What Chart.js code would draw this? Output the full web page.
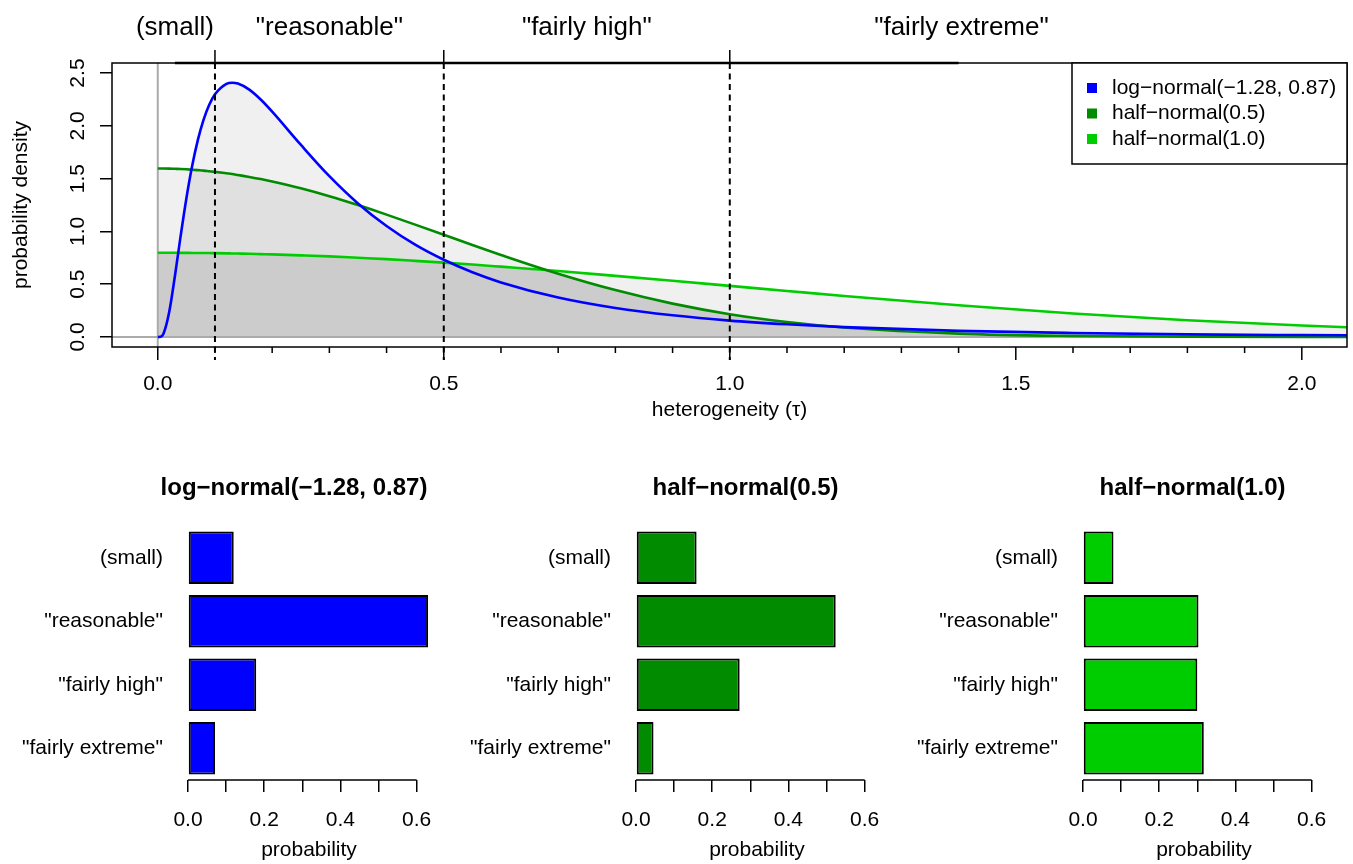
<!DOCTYPE html>
<html><head><meta charset="utf-8">
<script src="https://cdn.jsdelivr.net/npm/chart.js@4.4.1/dist/chart.umd.min.js"></script>
<style>
html,body{margin:0;padding:0;background:#fff;overflow:hidden;width:1353px;height:864px;position:relative;}
canvas{position:absolute;}
</style></head><body>
<script>
// ---------------- data ----------------
const tau = [0, 0.005, 0.01, 0.02, 0.03, 0.04, 0.05, 0.06, 0.07, 0.08, 0.09, 0.10, 0.12, 0.13, 0.14, 0.16, 0.18, 0.20, 0.25, 0.30, 0.35, 0.40, 0.45, 0.50, 0.55, 0.60, 0.70, 0.80, 0.90, 1.00, 1.10, 1.20, 1.40, 1.60, 1.80, 2.00, 2.10];
const densLogNormal = [0, 0.002, 0.031, 0.236, 0.578, 0.957, 1.312, 1.617, 1.864, 2.056, 2.199, 2.298, 2.397, 2.408, 2.400, 2.343, 2.249, 2.134, 1.821, 1.523, 1.265, 1.051, 0.874, 0.731, 0.613, 0.517, 0.373, 0.274, 0.205, 0.155, 0.120, 0.093, 0.058, 0.038, 0.025, 0.018, 0.015];
const densHalfNormal05 = [1.596, 1.596, 1.596, 1.595, 1.593, 1.591, 1.588, 1.584, 1.580, 1.576, 1.570, 1.564, 1.550, 1.543, 1.534, 1.516, 1.496, 1.473, 1.408, 1.333, 1.249, 1.159, 1.064, 0.968, 0.871, 0.777, 0.599, 0.444, 0.316, 0.216, 0.142, 0.090, 0.032, 0.010, 0.002, 0.001, 0.000];
const densHalfNormal10 = [0.798, 0.798, 0.798, 0.798, 0.798, 0.797, 0.797, 0.796, 0.796, 0.795, 0.795, 0.794, 0.792, 0.791, 0.790, 0.788, 0.785, 0.782, 0.773, 0.763, 0.750, 0.737, 0.721, 0.704, 0.686, 0.666, 0.625, 0.579, 0.532, 0.484, 0.436, 0.388, 0.300, 0.222, 0.158, 0.108, 0.088];

const xTickValues = [0, 0.1, 0.2, 0.3, 0.4, 0.5, 0.6, 0.7, 0.8, 0.9, 1.0, 1.1, 1.2, 1.3, 1.4, 1.5, 1.6, 1.7, 1.8, 1.9, 2.0];
const yTickValues = [0, 0.5, 1.0, 1.5, 2.0, 2.5];
const cutoffs = [0.1, 0.5, 1.0];
const regionLabels = ['(small)', '"reasonable"', '"fairly high"', '"fairly extreme"'];
const regionLabelPos = [0.03, 0.30, 0.75, 1.405];
const topAxisSpan = [0.03, 1.40];

const seriesNames = ['log\u2212normal(\u22121.28, 0.87)', 'half\u2212normal(0.5)', 'half\u2212normal(1.0)'];
const seriesColors = ['#0000FF', '#008B00', '#00CD00'];

const barCategories = ['(small)', '"reasonable"', '"fairly high"', '"fairly extreme"'];
const probLogNormal = [0.120, 0.630, 0.179, 0.071];
const probHalfNormal05 = [0.159, 0.524, 0.272, 0.046];
const probHalfNormal10 = [0.080, 0.303, 0.300, 0.317];
const probTicks = [0, 0.1, 0.2, 0.3, 0.4, 0.5, 0.6];

// ---------------- setup ----------------
const FONT = '"Liberation Sans", Arial, Helvetica, sans-serif';
const FS = 21;
Chart.defaults.font.family = FONT;
Chart.defaults.font.size = FS;
Chart.defaults.color = '#000';
Chart.defaults.animation = false;

function addCanvas(left, top, w, h) {
  const c = document.createElement('canvas');
  c.width = w; c.height = h;
  c.style.left = left + 'px'; c.style.top = top + 'px';
  c.style.width = w + 'px'; c.style.height = h + 'px';
  document.body.appendChild(c);
  return c;
}

const pts = arr => tau.map((t, i) => ({x: t, y: arr[i]}));
const envMax = tau.map((t, i) => Math.max(densLogNormal[i], densHalfNormal05[i], densHalfNormal10[i]));
const envMid = tau.map((t, i) => Math.min(densLogNormal[i], densHalfNormal05[i]));
const envLow = tau.map((t, i) => Math.min(densHalfNormal05[i], densHalfNormal10[i]));

const topDecor = {
  id: 'topDecor',
  afterDatasetDraw(chart, args) {
    if (args.index !== 3) return;
    const {ctx, chartArea: a, scales: {x, y}} = chart;
    const x0 = x.getPixelForValue(0), y0 = y.getPixelForValue(0);
    ctx.save();
    ctx.strokeStyle = '#ABABAB'; ctx.lineWidth = 2;
    ctx.beginPath();
    ctx.moveTo(x0, a.top); ctx.lineTo(x0, a.bottom);
    ctx.moveTo(a.left, y0); ctx.lineTo(a.right, y0);
    ctx.stroke();
    ctx.restore();
  },
  afterDraw(chart) {
    const {ctx, chartArea: a, scales: {x}} = chart;
    ctx.save();
    // dashed cut-off lines
    ctx.strokeStyle = '#000'; ctx.lineWidth = 2;
    ctx.setLineDash([6, 4.5]);
    ctx.beginPath();
    cutoffs.forEach(c => { const px = x.getPixelForValue(c); ctx.moveTo(px, a.top); ctx.lineTo(px, a.bottom + 13); });
    ctx.stroke();
    ctx.setLineDash([]);
    // box
    ctx.lineWidth = 1.5;
    ctx.strokeRect(a.left, a.top, a.right - a.left, a.bottom - a.top);
    // top axis with region labels
    ctx.lineWidth = 2.5;
    ctx.beginPath();
    ctx.moveTo(x.getPixelForValue(topAxisSpan[0]), a.top);
    ctx.lineTo(x.getPixelForValue(topAxisSpan[1]), a.top);
    ctx.stroke();
    ctx.lineWidth = 1.5;
    ctx.beginPath();
    cutoffs.forEach(c => { const px = x.getPixelForValue(c); ctx.moveTo(px, a.top); ctx.lineTo(px, a.top - 13); });
    ctx.stroke();
    ctx.fillStyle = '#000';
    ctx.font = '26px ' + FONT;
    ctx.textAlign = 'center'; ctx.textBaseline = 'middle';
    regionLabels.forEach((t, i) => ctx.fillText(t, x.getPixelForValue(regionLabelPos[i]), 28));
    // bottom tick marks (major every 0.5, minor every 0.1)
    ctx.lineWidth = 1.5;
    ctx.beginPath();
    x.ticks.forEach(tk => {
      const px = x.getPixelForValue(tk.value);
      const major = tk.label !== '';
      ctx.moveTo(px, a.bottom); ctx.lineTo(px, a.bottom + (major ? 13 : 6));
    });
    ctx.stroke();
    // legend
    const lw = 275, lh = 101;
    const lx = a.right - lw, ly = a.top;
    ctx.fillStyle = '#fff';
    ctx.fillRect(lx, ly, lw, lh);
    ctx.strokeStyle = '#000'; ctx.lineWidth = 1.5;
    ctx.strokeRect(lx, ly, lw, lh);
    ctx.font = FS + 'px ' + FONT;
    ctx.textAlign = 'left'; ctx.textBaseline = 'middle';
    chart.data.datasets.filter(d => d.legendText).forEach((d, i) => {
      const cy = ly + 25 + i * 25.5;
      ctx.fillStyle = d.borderColor;
      ctx.fillRect(lx + 15, cy - 5, 10, 10);
      ctx.fillStyle = '#000';
      ctx.fillText(d.legendText, lx + 40, cy);
    });
    ctx.restore();
  }
};

const lineDs = (i, arr) => ({
  data: pts(arr), legendText: seriesNames[i], borderColor: seriesColors[i], backgroundColor: seriesColors[i],
  borderWidth: 2.6, pointRadius: 0, fill: false, cubicInterpolationMode: 'monotone'
});
const fillDs = (arr, col) => ({
  data: pts(arr), borderWidth: 0, borderColor: 'rgba(0,0,0,0)', backgroundColor: col,
  pointRadius: 0, fill: 'origin', cubicInterpolationMode: 'monotone'
});

new Chart(addCanvas(0, 0, 1353, 440), {
  type: 'line',
  data: {
    datasets: [
      lineDs(0, densLogNormal),
      lineDs(1, densHalfNormal05),
      lineDs(2, densHalfNormal10),
      fillDs(envLow, '#CCCCCC'),
      fillDs(envMid, '#E0E0E0'),
      fillDs(envMax, '#F0F0F0')
    ]
  },
  options: {
    responsive: false,
    devicePixelRatio: 1,
    layout: {padding: {left: 0, top: 63, right: 6, bottom: 0}},
    plugins: {legend: {display: false}, tooltip: {enabled: false}},
    scales: {
      x: {
        type: 'linear', min: -0.08, max: 2.079,
        afterBuildTicks: s => { s.ticks = xTickValues.map(v => ({value: v})); },
        afterFit: s => { s.height = 93; },
        grid: {display: false, drawTicks: false}, border: {display: false},
        ticks: {autoSkip: false, maxRotation: 0, padding: 25, color: '#000', font: {size: FS},
          callback: v => (Math.abs(v * 2 - Math.round(v * 2)) < 1e-9 ? v.toFixed(1) : '')},
        title: {display: true, text: 'heterogeneity (\u03C4)', color: '#000', font: {size: FS}, padding: {top: 0, bottom: 17}}
      },
      y: {
        type: 'linear', min: -0.095, max: 2.595,
        afterBuildTicks: s => { s.ticks = yTickValues.map(v => ({value: v})); },
        afterFit: s => { s.width = 112; },
        grid: {display: true, drawOnChartArea: false, drawTicks: true, tickLength: 12, color: '#000', lineWidth: 1.5},
        border: {display: false},
        ticks: {autoSkip: false, minRotation: 90, maxRotation: 90, crossAlign: 'center', padding: 7, color: '#000', font: {size: FS},
          callback: v => v.toFixed(1)},
        title: {display: true, text: 'probability density', color: '#000', font: {size: FS}, padding: {top: 9, bottom: 0}}
      }
    }
  },
  plugins: [topDecor]
});

// ---------------- bar panels ----------------
const barDecor = {
  id: 'barDecor',
  afterDraw(chart, args, opts) {
    const {ctx, chartArea: a, scales: {x}} = chart;
    ctx.save();
    ctx.strokeStyle = '#000'; ctx.lineWidth = 1.5;
    ctx.beginPath();
    ctx.moveTo(x.getPixelForValue(probTicks[0]), a.bottom);
    ctx.lineTo(x.getPixelForValue(probTicks[probTicks.length - 1]), a.bottom);
    ctx.stroke();
    // panel title
    ctx.fillStyle = '#000';
    ctx.font = 'bold 24px ' + FONT;
    ctx.textAlign = 'center'; ctx.textBaseline = 'middle';
    ctx.fillText(opts.text, a.left + opts.offset, 18);
    ctx.restore();
  }
};

function barPanel(values, color, title, canvasLeft, axisLeft, titleCenter) {
  const areaW = 242;
  const yW = axisLeft - canvasLeft;
  const w = yW + areaW + 20;
  new Chart(addCanvas(canvasLeft, 470, w, 394), {
    type: 'bar',
    data: {labels: barCategories, datasets: [{
      data: values, backgroundColor: color, borderColor: '#000', borderWidth: 2, borderSkipped: false,
      barPercentage: 0.83, categoryPercentage: 1.0
    }]},
    options: {
      indexAxis: 'y', responsive: false, devicePixelRatio: 1,
      layout: {padding: {left: 0, top: 56, bottom: 0, right: 20}},
      plugins: {
        legend: {display: false}, tooltip: {enabled: false},
        barDecor: {text: title, offset: titleCenter - axisLeft}
      },
      scales: {
        x: {
          type: 'linear', min: 0, max: 0.635,
          afterBuildTicks: s => { s.ticks = probTicks.map(v => ({value: v})); },
          afterFit: s => { s.height = 84; },
          grid: {display: true, drawOnChartArea: false, drawTicks: true, tickLength: 12, color: '#000', lineWidth: 1.5},
          border: {display: false},
          ticks: {autoSkip: false, maxRotation: 0, padding: 16, color: '#000', font: {size: FS},
            callback: v => (Math.round(v * 10) % 2 === 0 ? v.toFixed(1) : '')},
          title: {display: true, text: 'probability', color: '#000', font: {size: FS}, padding: {top: 0, bottom: 1}}
        },
        y: {
          type: 'category',
          afterFit: s => { s.width = yW; },
          grid: {display: false, drawTicks: false}, border: {display: false},
          ticks: {autoSkip: false, padding: 25, color: '#000', font: {size: FS}}
        }
      }
    },
    plugins: [barDecor]
  });
}

barPanel(probLogNormal, seriesColors[0], seriesNames[0], 10, 188, 294);
barPanel(probHalfNormal05, seriesColors[1], seriesNames[1], 460, 636, 745.5);
barPanel(probHalfNormal10, seriesColors[2], seriesNames[2], 905, 1083, 1192.5);
</script>
</body></html>
